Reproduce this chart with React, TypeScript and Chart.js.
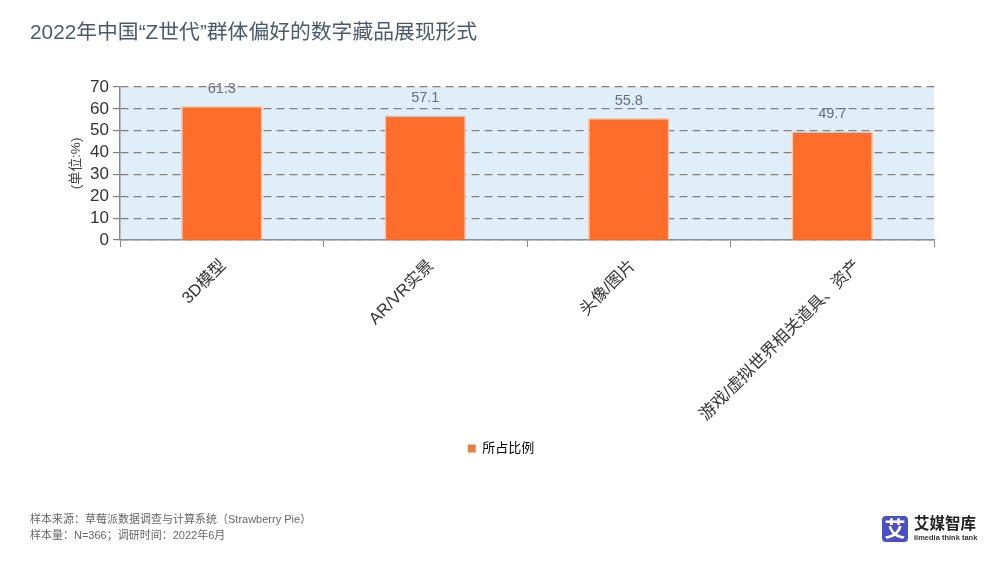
import { useEffect, useRef } from "react"
import { Chart, registerables } from "chart.js"

Chart.register(...registerables)

const categories = ["3D模型", "AR/VR实景", "头像/图片", "游戏/虚拟世界相关道具、资产"]
const shares = [61.3, 57.1, 55.8, 49.7]
const seriesName = "所占比例"
const yTitle = "(单位:%)"
const chartTitle = "2022年中国“Z世代”群体偏好的数字藏品展现形式"
const sourceLines = [
  "样本来源：草莓派数据调查与计算系统（Strawberry Pie）",
  "样本量：N=366；调研时间：2022年6月",
]

const FONT = '"Liberation Sans", "Noto Sans CJK SC", sans-serif'

// plot background and the value labels above the bars
const plotBackground = {
  id: "plotBackground",
  beforeDraw: (chart: Chart) => {
    const { ctx, chartArea } = chart
    ctx.save()
    ctx.fillStyle = "#e0eefa"
    ctx.fillRect(chartArea.left, chartArea.top, chartArea.width, chartArea.height)
    ctx.restore()
  },
}

const valueLabels = {
  id: "valueLabels",
  afterDatasetsDraw: (chart: Chart) => {
    const { ctx } = chart
    ctx.save()
    ctx.font = `14.5px ${FONT}`
    ctx.fillStyle = "#666e78"
    ctx.textAlign = "center"
    ctx.textBaseline = "middle"
    chart.getDatasetMeta(0).data.forEach((bar, i) => {
      ctx.fillText(String(shares[i]), bar.x, bar.y - 17.5)
    })
    ctx.restore()
  },
}

// the slanted category labels sit further right the longer they are,
// which the axis can't do by itself, so they are drawn here from its ticks
const slantedLabels = {
  id: "slantedLabels",
  afterDraw: (chart: Chart) => {
    const { ctx, scales } = chart
    const x = scales.x
    ctx.save()
    ctx.font = `16.5px ${FONT}`
    ctx.fillStyle = "#333333"
    ctx.textAlign = "right"
    ctx.textBaseline = "middle"
    categories.forEach((label, i) => {
      const w = ctx.measureText(label).width
      ctx.save()
      ctx.translate(x.getPixelForTick(i) - 6 + w * 0.144, x.top + 23)
      ctx.rotate(-Math.PI / 4)
      ctx.fillText(label, 0, 0)
      ctx.restore()
    })
    ctx.restore()
  },
}

export default function App() {
  const canvasRef = useRef<HTMLCanvasElement>(null)

  useEffect(() => {
    if (!canvasRef.current) return

    const chart = new Chart(canvasRef.current, {
      type: "bar",
      data: {
        labels: categories,
        datasets: [
          {
            label: seriesName,
            data: shares,
            backgroundColor: "#ff6d2a",
            borderColor: "#fcc9a8",
            borderWidth: 1.5,
            categoryPercentage: 1,
            barPercentage: 0.4,
          },
        ],
      },
      options: {
        responsive: false,
        animation: false,
        layout: { padding: { left: 68, right: 66, top: 87, bottom: 98 } },
        scales: {
          x: {
            grid: {
              drawOnChartArea: false,
              drawTicks: true,
              tickLength: 7,
              color: "#8a8a8a",
            },
            border: { color: "#8a8a8a", width: 1.5 },
            ticks: { display: false, autoSkip: false },
            afterFit: (axis) => {
              axis.height = 196
            },
          },
          y: {
            min: 0,
            max: 70,
            ticks: {
              stepSize: 10,
              autoSkip: false,
              color: "#333333",
              font: { family: FONT, size: 17 },
              padding: 4,
            },
            grid: {
              color: "#808080",
              lineWidth: 1.2,
              tickLength: 7,
              tickBorderDash: [],
            },
            border: { dash: [8, 5], color: "#8a8a8a", width: 1.5 },
            title: {
              display: true,
              text: yTitle,
              color: "#444444",
              font: { family: FONT, size: 13.5 },
              padding: 0,
            },
            afterFit: (axis) => {
              axis.width = 52
            },
          },
        },
        plugins: {
          title: { display: false },
          tooltip: { enabled: false },
          legend: {
            position: "bottom",
            labels: {
              boxWidth: 8,
              boxHeight: 8,
              color: "#555555",
              font: { family: FONT, size: 13 },
              padding: 6,
              generateLabels: () => [
                { text: seriesName, fillStyle: "#e8803f", strokeStyle: "#e8803f", lineWidth: 0, datasetIndex: 0 },
              ],
            },
          },
        },
      },
      plugins: [plotBackground, valueLabels, slantedLabels],
    })

    return () => chart.destroy()
  }, [])

  return (
    <div style={{ position: "absolute", left: 0, top: 0, width: 1000, height: 563, background: "#fff", fontFamily: FONT, overflow: "hidden" }}>
      <canvas ref={canvasRef} width={1000} height={563} style={{ position: "absolute", left: 0, top: 0 }} />
      <div style={{ position: "absolute", left: 30, top: 19, fontSize: 20.8, lineHeight: "26px", color: "#4a5a6c", whiteSpace: "nowrap" }}>
        {chartTitle}
      </div>
      {sourceLines.map((line, i) => (
        <div key={line} style={{ position: "absolute", left: 30, top: 512 + i * 16, fontSize: 11, lineHeight: "15px", color: "#666666", whiteSpace: "nowrap" }}>
          {line}
        </div>
      ))}
      <div style={{ position: "absolute", left: 882, top: 516, width: 26, height: 26, borderRadius: 4, background: "#4b4fc6", color: "#fff", fontSize: 21, lineHeight: "26px", textAlign: "center", fontWeight: 700 }}>
        艾
      </div>
      <div style={{ position: "absolute", left: 914, top: 515, fontSize: 15.5, lineHeight: "18px", fontWeight: 700, color: "#222", whiteSpace: "nowrap" }}>
        艾媒智库
      </div>
      <div style={{ position: "absolute", left: 914, top: 533, fontSize: 7.5, lineHeight: "10px", fontWeight: 700, color: "#333", whiteSpace: "nowrap" }}>
        iimedia think tank
      </div>
    </div>
  )
}
